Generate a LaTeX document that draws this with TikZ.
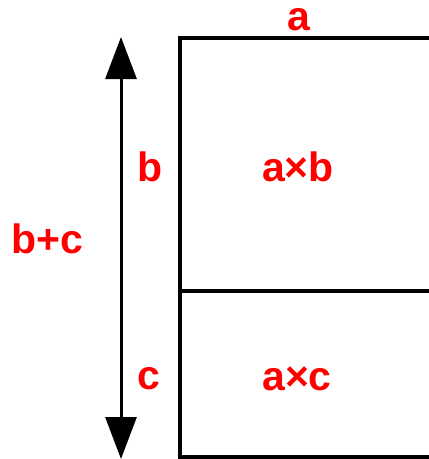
\documentclass[tikz,border=0pt]{standalone}
\usepackage{fontspec}
\setmainfont{Liberation Sans}
\usetikzlibrary{arrows.meta}

\begin{document}
\begin{tikzpicture}[x=1pt, y=-1pt,
    lbl/.style={text=red, font=\bfseries\fontsize{41}{41}\selectfont, inner sep=0pt}]
  \useasboundingbox (0,0) rectangle (429,459);
  \clip (0,0) rectangle (429,459);
  % the two areas a x b and a x c
  \draw[line width=3.2pt] (180,38) rectangle (440,457);
  \draw[line width=3.2pt] (180,291) -- (440,291);
  % total height b+c
  \coordinate (top) at (121,37);
  \coordinate (bot) at (121,459);
  \draw[line width=3pt, {Triangle[width=31pt,length=42pt]}-{Triangle[width=31pt,length=42pt]}] (top) -- (bot);
  \node[lbl, text height=0.55em, text depth=0pt, anchor=base] (na) at (299,30) {a};
  \node[lbl] (nb)  at (150,167) {b};
  \node[lbl] (nab) at (298,167) {a×b};
  \node[lbl] (nbc) at (47,239)  {b+c};
  \node[lbl] (nc)  at (149,379) {c};
  \node[lbl] (nac) at (297,379) {a×c};
\end{tikzpicture}
\end{document}
